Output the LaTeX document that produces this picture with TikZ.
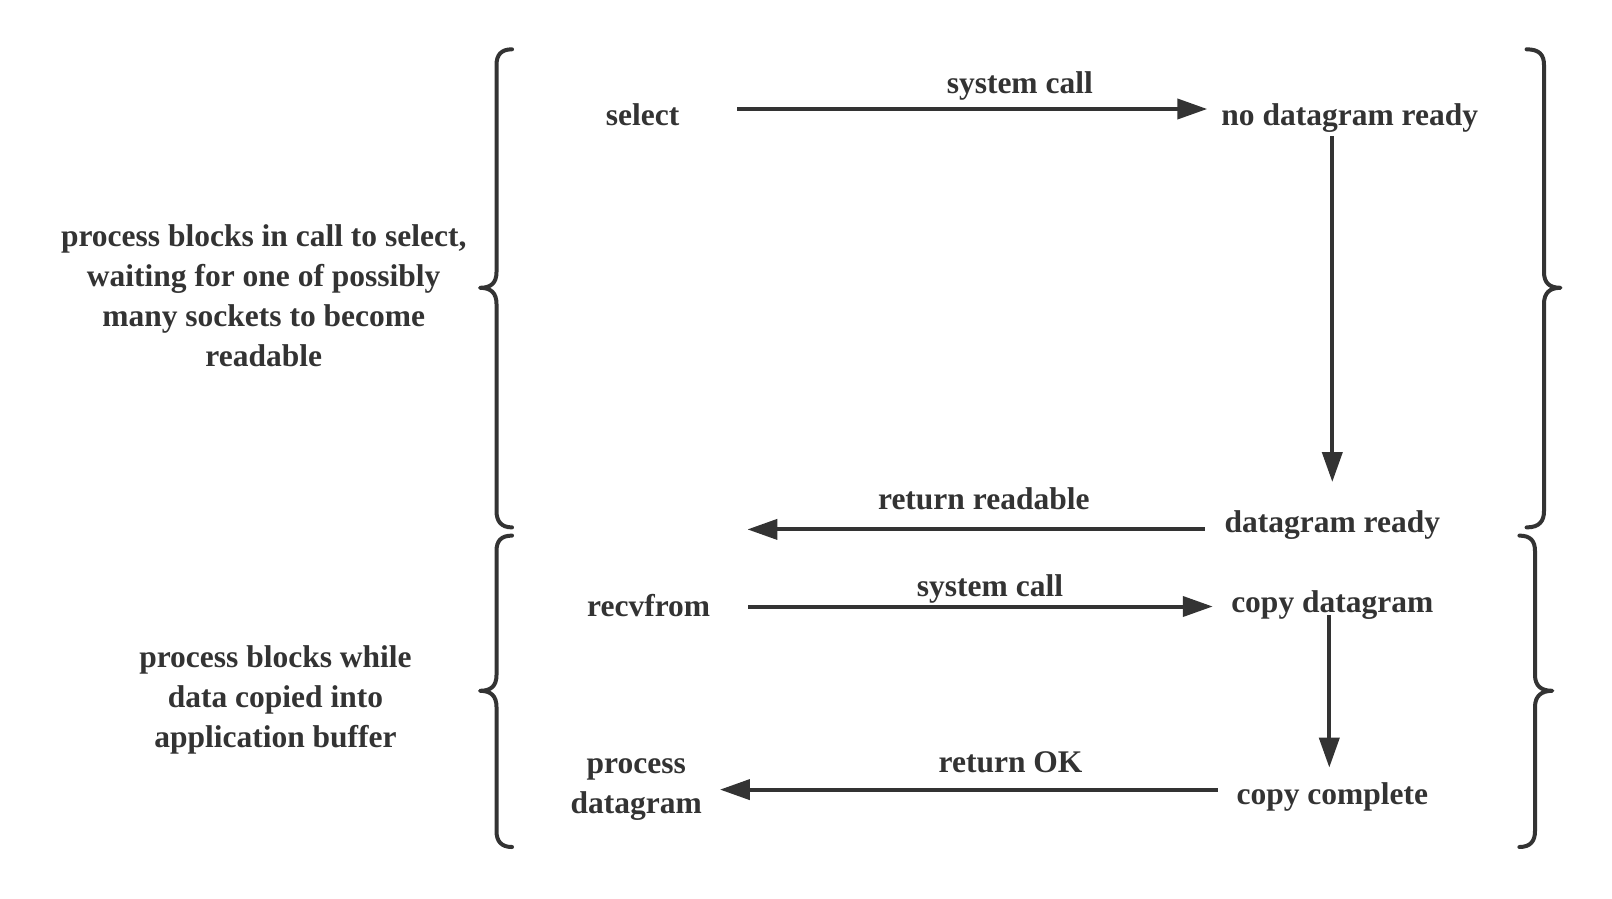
\documentclass[tikz,border=0pt]{standalone}
\usepackage{fontspec}
\setmainfont{Liberation Serif}[BoldFont={Liberation Serif Bold}]
\usetikzlibrary{arrows.meta}
\definecolor{ink}{HTML}{333333}
\tikzset{
  lbl/.style={font=\fontsize{31.5}{40}\selectfont\bfseries, text=ink, inner sep=0pt, text height=22pt, text depth=8pt},
  para/.style={font=\fontsize{31.5}{40}\selectfont\bfseries, text=ink, inner sep=0pt, align=center},
  arr/.style={draw=ink, line width=4pt, -{Triangle[length=30pt,width=20pt]}},
  bracestyle/.style={draw=ink, line width=4pt, line cap=round, line join=round}
}
\begin{document}
\begin{tikzpicture}[x=1pt,y=-1pt]
\useasboundingbox (0,0) rectangle (1612,898);
% labels
\node[lbl] (select) at (642.5,118) {select};
\node[lbl] (sc1) at (1019.8,86.3) {system call};
\node[lbl] (ndr) at (1349.8,118) {no datagram ready};
\node[lbl] (dr) at (1332.3,525.2) {datagram ready};
\node[lbl] (rr) at (983.8,502.6) {return readable};
\node[lbl] (recv) at (648.7,609.5) {recvfrom};
\node[lbl] (sc2) at (990,589) {system call};
\node[lbl] (cd) at (1332.3,605.4) {copy datagram};
\node[lbl] (cc) at (1332.3,797.6) {copy complete};
\node[lbl] (rok) at (1010.5,765.8) {return OK};
\node[para] (pd) at (636.3,789.5) {process\\datagram};
\node[para] (t1) at (263.7,295.5) {process blocks in call to select,\\waiting for one of possibly\\many sockets to become\\readable};
\node[para] (t2) at (275.5,700) {process blocks while\\data copied into\\application buffer};
\coordinate (rrend) at (747.4,529.4);
% connectors
\draw[arr, shorten <=58pt, shorten >=14pt] ([yshift=9pt]select.east) -- ([yshift=9pt]select.east -| ndr.west);
\draw[arr, shorten <=3pt, shorten >=28pt] (dr.north |- ndr.south) -- (dr.north);
\draw[arr, shorten <=19.5pt] ([yshift=-4.2pt]dr.west) -- (rrend);
\draw[arr, shorten <=37.7pt, shorten >=18.3pt] ([yshift=3pt]recv.east) -- ([yshift=3pt]recv.east -| cd.west);
\draw[arr, shorten <=-5.7pt, shorten >=14.8pt] ([xshift=-3pt]cd.south) -- ([xshift=-3pt]cc.north);
\draw[arr, shorten <=18.5pt, shorten >=17.8pt] ([yshift=8pt]cc.west) -- ([yshift=8pt]cc.west -| pd.east);
% braces
\draw[bracestyle] (512,49.3) .. controls (501,49.3) and (496.5,55) .. (496.5,65) -- (496.5,272)
  .. controls (496.5,283) and (491,287.8) .. (480,287.8)
  .. controls (491,287.8) and (496.5,293) .. (496.5,304) -- (496.5,511)
  .. controls (496.5,521) and (501,527.4) .. (512,527.4);
\draw[bracestyle] (1526.6,49.3) .. controls (1539.5,49.3) and (1544,55) .. (1544,65) -- (1544,272)
  .. controls (1544,283) and (1549.5,287.8) .. (1560.5,287.8)
  .. controls (1549.5,287.8) and (1544,293) .. (1544,304) -- (1544,511)
  .. controls (1544,521) and (1539.5,527.4) .. (1526.6,527.4);
\draw[bracestyle] (512,535.6) .. controls (501,535.6) and (496.5,541) .. (496.5,551) -- (496.5,675)
  .. controls (496.5,686) and (491,690.8) .. (480,690.8)
  .. controls (491,690.8) and (496.5,696) .. (496.5,707) -- (496.5,831)
  .. controls (496.5,841) and (501,847) .. (512,847);
\draw[bracestyle] (1519.4,535.6) .. controls (1530.5,535.6) and (1535,541) .. (1535,551) -- (1535,675)
  .. controls (1535,686) and (1541.3,690.8) .. (1552.3,690.8)
  .. controls (1541.3,690.8) and (1535,696) .. (1535,707) -- (1535,831)
  .. controls (1535,841) and (1530.5,847) .. (1519.4,847);
\end{tikzpicture}
\end{document}
